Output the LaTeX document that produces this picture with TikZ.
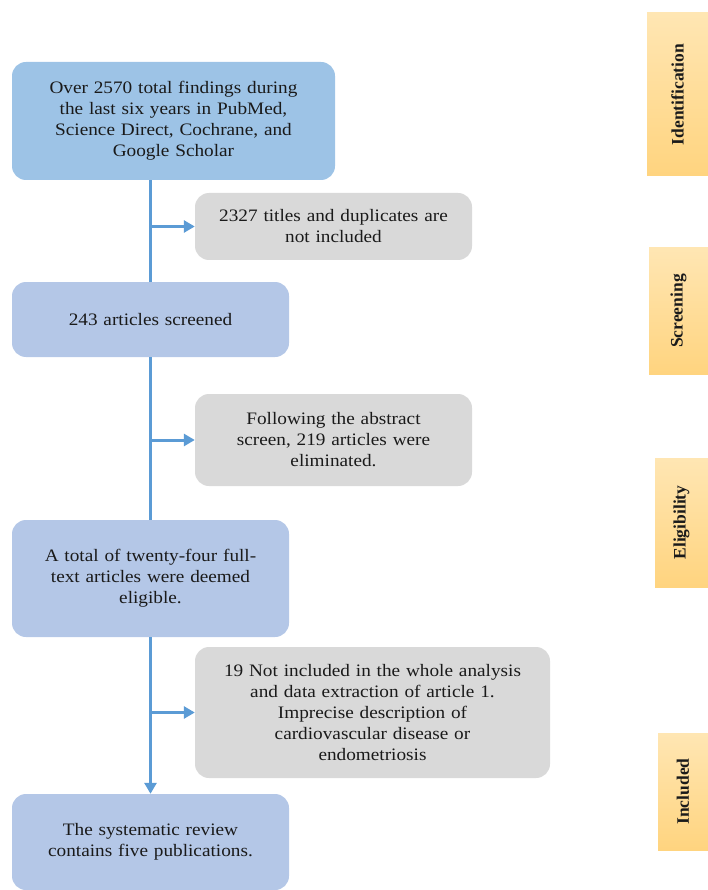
\documentclass[tikz,border=0pt]{standalone}
\usepackage{fontspec}
\setmainfont{Liberation Serif}[FakeStretch=1.1]
\newfontfamily\sidefont{Liberation Serif}
\usetikzlibrary{arrows.meta}
\definecolor{bluea}{HTML}{9DC3E6}
\definecolor{blueb}{HTML}{B4C7E7}
\definecolor{grayb}{HTML}{D9D9D9}
\definecolor{linec}{HTML}{5B9BD5}
\definecolor{orgtop}{HTML}{FFE6B3}
\definecolor{orgbot}{HTML}{FFD47F}
\definecolor{txt}{HTML}{1A1A1A}
\tikzset{
  mainbox/.style={rounded corners=14pt, draw=none, align=center, text=txt, inner sep=4pt,
    font=\fontsize{17.5}{21}\selectfont},
  greybox/.style={mainbox, fill=grayb},
  sidebox/.style={draw=none, top color=orgtop, bottom color=orgbot, inner sep=0pt},
  sidelabel/.style={rotate=90, font=\sidefont\bfseries\fontsize{17.5}{20}\selectfont, text=txt},
  flow/.style={draw=linec, line width=3pt},
  flowarrow/.style={flow, -{Triangle[length=11pt,width=12pt]}}
}
\begin{document}
\begin{tikzpicture}[x=1pt,y=-1pt]
\useasboundingbox (0,0) rectangle (708,890);
% main boxes
\node[mainbox, fill=bluea, minimum width=323pt, minimum height=118pt, text width=300pt] (b1) at (173.5,121)
  {Over 2570 total findings during\\ the last six years in PubMed,\\ Science Direct, Cochrane, and\\ Google Scholar};
\node[greybox, minimum width=277pt, minimum height=67pt, text width=265pt] (g1) at (333.5,226.5)
  {2327 titles and duplicates are\\ not included};
\node[mainbox, fill=blueb, minimum width=277pt, minimum height=75pt, text width=265pt] (b2) at (150.5,319.5)
  {243 articles screened};
\node[greybox, minimum width=277pt, minimum height=92pt, text width=265pt] (g2) at (333.5,440)
  {Following the abstract\\ screen, 219 articles were\\ eliminated.};
\node[mainbox, fill=blueb, minimum width=277pt, minimum height=117pt, text width=265pt] (b3) at (150.5,578.5)
  {A total of twenty-four full-\\ text articles were deemed\\ eligible.};
\node[greybox, minimum width=355pt, minimum height=131pt, text width=345pt] (g3) at (372.5,712.5)
  {19 Not included in the whole analysis\\ and data extraction of article 1.\\ Imprecise description of\\ cardiovascular disease or\\ endometriosis};
\node[mainbox, fill=blueb, minimum width=277pt, minimum height=96pt, text width=265pt] (b4) at (150.5,842)
  {The systematic review\\ contains five publications.};
% side boxes
\node[sidebox, minimum width=61pt, minimum height=163pt] (s1) at (677.5,94.5) {};
\node[sidelabel] (l1) at (s1.center) {Identification};
\node[sidebox, minimum width=59pt, minimum height=126pt] (s2) at (678.5,311) {};
\node[sidelabel] (l2) at (s2.center) {Screening};
\node[sidebox, minimum width=53pt, minimum height=129pt] (s3) at (681.5,522.5) {};
\node[sidelabel] (l3) at (s3.center) {Eligibility};
\node[sidebox, minimum width=50pt, minimum height=117pt] (s4) at (683,791.5) {};
\node[sidelabel] (l4) at (s4.center) {Included};
% connectors
\draw[flow] (b1.south -| b2.north) -- (b2.north);
\draw[flow] (b2.south) -- (b3.north);
\draw[flowarrow] (b3.south) -- (b4.north);
\draw[flowarrow] (b2.north |- g1.west) -- (g1.west);
\draw[flowarrow] (b2.south |- g2.west) -- (g2.west);
\draw[flowarrow] (b3.south |- g3.west) -- (g3.west);
\end{tikzpicture}
\end{document}
